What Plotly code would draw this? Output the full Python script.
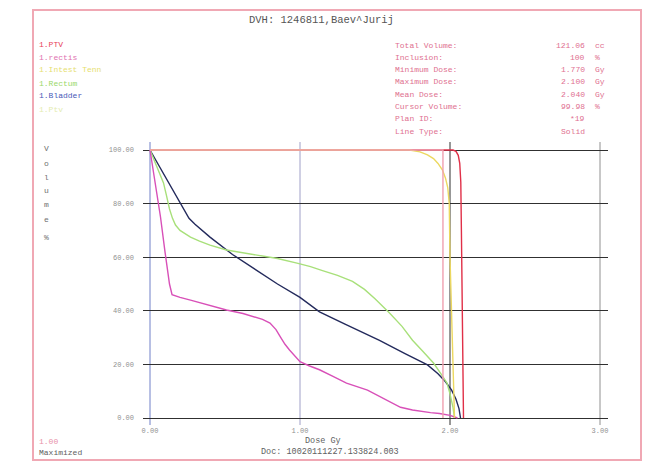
import plotly.graph_objects as go

# ---------------- data ----------------
ptv_dose = [0.0, 2.02, 2.04, 2.055, 2.065, 2.072, 2.076, 2.08, 2.083, 2.086, 2.09]
ptv_vol = [100, 100, 99.5, 98, 95, 88, 70, 40, 15, 4, 0]

rect_dose = [0.0, 0.03, 0.07, 0.10, 0.13, 0.147, 0.20, 0.27, 0.40, 0.51, 0.62, 0.69, 0.75, 0.80,
             0.84, 0.87, 0.90, 0.93, 0.97, 1.00, 1.06, 1.13, 1.22, 1.31, 1.45, 1.53, 1.60,
             1.67, 1.75, 1.80, 1.87, 1.93, 2.00, 2.05]
rect_vol = [100, 90, 75, 62, 50, 46, 45, 44, 42, 40.3, 39, 37.7, 36.8, 35.4,
            33, 30.2, 27.5, 25.4, 23, 21, 19.5, 18, 15.5, 13, 10.4, 8, 5.8,
            4, 3, 2.5, 2, 1.7, 1, 0]

intest_dose = [0.0, 1.73, 1.80, 1.85, 1.89, 1.92, 1.95, 1.97, 1.985, 1.995, 2.00, 2.01, 2.02, 2.03]
intest_vol = [100, 100, 99.3, 98.2, 96.8, 95, 92.5, 89.5, 86, 80, 60, 40, 10, 0]

rectum_dose = [0.0, 0.03, 0.06, 0.09, 0.11, 0.13, 0.15, 0.17, 0.20, 0.24, 0.27, 0.33, 0.40, 0.51,
               0.60, 0.69, 0.85, 0.98, 1.07, 1.15, 1.25, 1.35, 1.43, 1.50, 1.60, 1.68, 1.75,
               1.82, 1.89, 1.94, 1.98, 2.00, 2.02, 2.03]
rectum_vol = [100, 96, 92, 87.7, 83, 78, 74.5, 72, 70, 68.5, 67.5, 66, 64.5, 62.7,
              61.8, 61, 59.5, 57.8, 56.5, 55, 53.2, 51, 48, 44.5, 39, 34.2, 29,
              24.8, 20.5, 16.5, 13, 9, 4, 0]

bladder_dose = [0.0, 0.05, 0.10, 0.15, 0.20, 0.23, 0.26, 0.30, 0.35, 0.40, 0.55, 0.70, 0.85,
                1.00, 1.13, 1.30, 1.53, 1.70, 1.85, 1.92, 1.97, 2.01, 2.04, 2.06, 2.07]
bladder_vol = [100, 95, 90, 85, 80.5, 77, 74.5, 72.3, 70, 67.5, 61, 55.5, 50,
               45, 39.6, 35, 29, 24, 19.8, 16.5, 13.5, 10.5, 7, 3.5, 0]

ptv2_dose = [0.0, 1.953, 1.953]
ptv2_vol = [100, 100, 0]

x_ticks = [0, 1, 2, 3]
x_labels = ["0.00", "1.00", "2.00", "3.00"]
y_ticks = [0, 20, 40, 60, 80, 100]
y_labels = ["0.00", "20.00", "40.00", "60.00", "80.00", "100.00"]

legend_names = ["1.PTV", "1.rectis", "1.Intest Tenn", "1.Rectum", "1.Bladder", "1.Ptv"]
legend_colors = ["#e8405a", "#e070b0", "#e6e070", "#9ad86a", "#4858b8", "#e4ecb0"]

stat_labels = ["Total Volume:", "Inclusion:", "Minimum Dose:", "Maximum Dose:",
               "Mean Dose:", "Cursor Volume:", "Plan ID:", "Line Type:"]
stat_values = ["121.06", "100", "1.770", "2.100", "2.040", "99.98", "*19", "Solid"]
stat_units = ["cc", "%", "Gy", "Gy", "Gy", "%", "", ""]

title_text = "DVH: 1246811,Baev^Jurij"

# ---------------- layout helpers ----------------
OFF = 8  # page body margin
W, H = 653 - OFF, 464 - OFF
L, R, T, B = 143 - OFF, 608 - OFF, 142 - OFF, 425 - OFF  # plot area in figure px
MONO = "Liberation Mono, DejaVu Sans Mono, monospace"


def px(x):
    return (x - OFF - L) / (R - L)


def py(y):
    return (B - (y - OFF)) / (B - T)


fig = go.Figure()

# vertical grid lines (colored as in reference)
vcolors = ["#7080c8", "#a0a0c8", "#303030", "#909090"]
for xv, c in zip(x_ticks, vcolors):
    fig.add_shape(type="line", xref="x", yref="paper", x0=xv, x1=xv, y0=0, y1=1,
                  line=dict(color=c, width=1), layer="below")

series = [
    (ptv_dose, ptv_vol, "#e03048", "1.PTV"),
    (bladder_dose, bladder_vol, "#232a5c", "1.Bladder"),
    (rectum_dose, rectum_vol, "#a8e07a", "1.Rectum"),
    (rect_dose, rect_vol, "#d850b8", "1.rectis"),
    (intest_dose, intest_vol, "#ecd860", "1.Intest Tenn"),
    (ptv2_dose, ptv2_vol, "#f0a0b0", "1.Ptv"),
]
for xs, ys, c, n in series:
    fig.add_trace(go.Scatter(x=xs, y=ys, mode="lines", name=n,
                             line=dict(color=c, width=1.4)))

# outer border
fig.add_shape(type="rect", xref="paper", yref="paper",
              x0=px(33), x1=px(641), y0=py(460), y1=py(10),
              line=dict(color="#f0a8b4", width=2))

ann = []
ann.append(dict(x=px(321), y=py(20), text=title_text, font=dict(size=10.5, color="#555555", family=MONO)))

for i, (n, c) in enumerate(zip(legend_names, legend_colors)):
    ann.append(dict(x=px(37), y=py(44 + i * 13), text=n, xanchor="left",
                    font=dict(size=8, color=c, family=MONO)))

for i, (lab, val, u) in enumerate(zip(stat_labels, stat_values, stat_units)):
    yy = py(45 + i * 12.3)
    ann.append(dict(x=px(393), y=yy, text=lab, xanchor="left",
                    font=dict(size=8, color="#e07090", family=MONO)))
    ann.append(dict(x=px(587), y=yy, text=val, xanchor="right",
                    font=dict(size=8, color="#e07090", family=MONO)))
    if u:
        ann.append(dict(x=px(593), y=yy, text=u, xanchor="left",
                        font=dict(size=8, color="#e07090", family=MONO)))

vlet = ["V", "o", "l", "u", "m", "e", "%"]
vy = [148, 163, 177, 190, 204, 219, 237]
for ch, yy in zip(vlet, vy):
    ann.append(dict(x=px(46), y=py(yy), text=ch, font=dict(size=8, color="#707070", family=MONO)))

ann.append(dict(x=px(323), y=py(441), text="Dose Gy", font=dict(size=8.5, color="#606060", family=MONO)))
ann.append(dict(x=px(330), y=py(452), text="Doc: 10020111227.133824.003",
                font=dict(size=8.5, color="#606060", family=MONO)))
ann.append(dict(x=px(37), y=py(441), text="1.00", xanchor="left",
                font=dict(size=8, color="#e890a8", family=MONO)))
ann.append(dict(x=px(37), y=py(452), text="Maximized", xanchor="left",
                font=dict(size=8, color="#606060", family=MONO)))

for a in ann:
    a.setdefault("xanchor", "center")
    a.update(xref="paper", yref="paper", showarrow=False, yanchor="middle")

fig.update_layout(
    width=W, height=H, autosize=False,
    margin=dict(l=L, r=W - R, t=T, b=H - B, pad=0),
    paper_bgcolor="white", plot_bgcolor="white",
    showlegend=False,
    annotations=ann,
    xaxis=dict(range=[(143 - 150) / 150, (608 - 150) / 150], tickvals=x_ticks, ticktext=x_labels,
               showgrid=False, zeroline=False, showline=False, ticks="",
               tickfont=dict(size=7, color="#909090", family=MONO)),
    yaxis=dict(range=[(418 - 425) / 2.68, (418 - 142) / 2.68], tickvals=y_ticks, ticktext=y_labels,
               showgrid=True, gridcolor="#303030", gridwidth=1, zeroline=False, showline=False,
               ticks="", ticklabelstandoff=8,
               tickfont=dict(size=7, color="#909090", family=MONO)),
)

fig.write_html("out.html")
